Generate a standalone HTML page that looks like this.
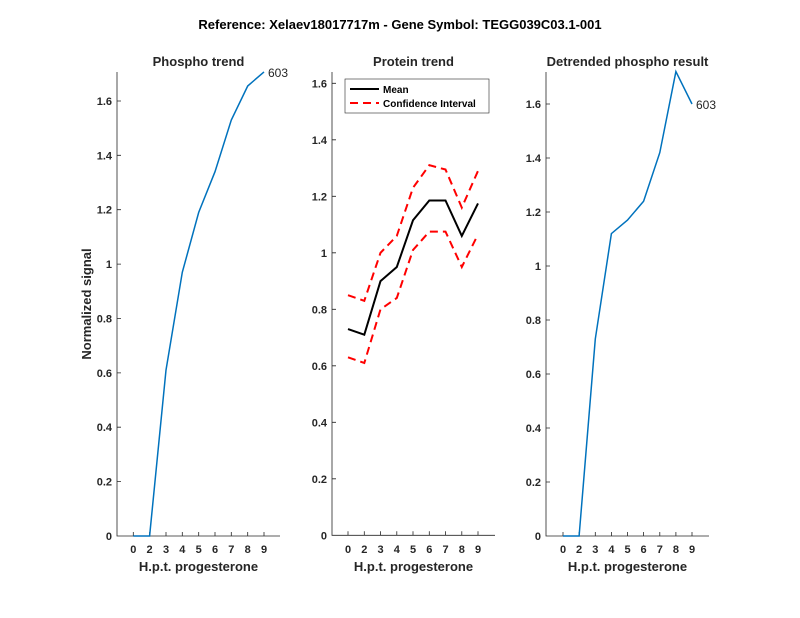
<!DOCTYPE html><html><head><style>body{margin:0;background:#fff}svg{display:block}text{font-family:"Liberation Sans",sans-serif;fill:#262626}</style></head><body>
<svg width="800" height="618" viewBox="0 0 800 618" xmlns="http://www.w3.org/2000/svg">
<text x="400" y="29" font-size="13" font-weight="bold" text-anchor="middle" style="fill:#000">Reference:  Xelaev18017717m - Gene Symbol:  TEGG039C03.1-001</text>
<g stroke="#262626" stroke-width="0.8" fill="none">
<path d="M117,72V536H280"/><path d="M332,72V535.3H495"/><path d="M546,72V536H709"/>
<path d="M117,101h4M117,155.3h4M117,209.7h4M117,264.1h4M117,318.5h4M117,372.9h4M117,427.2h4M117,481.6h4
M133.3,536v-4M149.6,536v-4M166,536v-4M182.3,536v-4M198.7,536v-4M215,536v-4M231.3,536v-4M247.7,536v-4M264,536v-4"/>
<path d="M332,83.3h4M332,139.8h4M332,196.3h4M332,252.8h4M332,309.3h4M332,365.8h4M332,422.3h4M332,478.8h4
M348,535.3v-4M364.3,535.3v-4M380.5,535.3v-4M396.8,535.3v-4M413,535.3v-4M429.3,535.3v-4M445.5,535.3v-4M461.8,535.3v-4M478,535.3v-4"/>
<path d="M546,104h4M546,158h4M546,212h4M546,266h4M546,320h4M546,374h4M546,428h4M546,482h4
M563,536v-4M579.1,536v-4M595.3,536v-4M611.4,536v-4M627.5,536v-4M643.6,536v-4M659.8,536v-4M675.9,536v-4M692,536v-4"/>
</g>
<g font-size="11" font-weight="bold" text-anchor="end">
<text x="112" y="540">0</text><text x="112" y="485.6">0.2</text><text x="112" y="431.2">0.4</text><text x="112" y="376.9">0.6</text><text x="112" y="322.5">0.8</text><text x="112" y="268.1">1</text><text x="112" y="213.7">1.2</text><text x="112" y="159.3">1.4</text><text x="112" y="105">1.6</text>
<text x="327" y="539.3">0</text><text x="327" y="482.8">0.2</text><text x="327" y="426.3">0.4</text><text x="327" y="369.8">0.6</text><text x="327" y="313.3">0.8</text><text x="327" y="256.8">1</text><text x="327" y="200.3">1.2</text><text x="327" y="143.8">1.4</text><text x="327" y="87.3">1.6</text>
<text x="541" y="540">0</text><text x="541" y="486">0.2</text><text x="541" y="432">0.4</text><text x="541" y="378">0.6</text><text x="541" y="324">0.8</text><text x="541" y="270">1</text><text x="541" y="216">1.2</text><text x="541" y="162">1.4</text><text x="541" y="108">1.6</text>
</g>
<g font-size="11" font-weight="bold" text-anchor="middle">
<text x="133.3" y="553">0</text><text x="149.6" y="553">2</text><text x="166" y="553">3</text><text x="182.3" y="553">4</text><text x="198.7" y="553">5</text><text x="215" y="553">6</text><text x="231.3" y="553">7</text><text x="247.7" y="553">8</text><text x="264" y="553">9</text>
<text x="348" y="553">0</text><text x="364.3" y="553">2</text><text x="380.5" y="553">3</text><text x="396.8" y="553">4</text><text x="413" y="553">5</text><text x="429.3" y="553">6</text><text x="445.5" y="553">7</text><text x="461.8" y="553">8</text><text x="478" y="553">9</text>
<text x="563" y="553">0</text><text x="579.1" y="553">2</text><text x="595.3" y="553">3</text><text x="611.4" y="553">4</text><text x="627.5" y="553">5</text><text x="643.6" y="553">6</text><text x="659.8" y="553">7</text><text x="675.9" y="553">8</text><text x="692" y="553">9</text>
</g>
<g font-size="13" font-weight="bold" text-anchor="middle">
<text x="198.5" y="571">H.p.t. progesterone</text><text x="413.5" y="571">H.p.t. progesterone</text><text x="627.5" y="571">H.p.t. progesterone</text>
<text x="198.5" y="66">Phospho trend</text><text x="413.5" y="66">Protein trend</text><text x="627.5" y="66">Detrended phospho result</text>
<text transform="translate(91,304) rotate(-90)">Normalized signal</text>
</g>
<g fill="none" stroke-width="1.5">
<polyline stroke="#0072BD" points="133.3,536 149.6,536 166,370.1 182.3,272.3 198.7,212.4 215,171.7 231.3,120 247.7,86 264,71.9"/>
<polyline stroke="#0072BD" points="563,536 579.1,536 595.3,338.9 611.4,233.6 627.5,220.1 643.6,201.2 659.8,152.6 675.9,71.6 692,104"/>
<polyline stroke="#f00" stroke-width="2" stroke-dasharray="8,5" points="348,295.2 364.3,300.8 380.5,252.8 396.8,235.9 413,187.8 429.3,165.2 445.5,169.5 461.8,207.6 478,170.9"/>
<polyline stroke="#f00" stroke-width="2" stroke-dasharray="8,5" points="348,357.3 364.3,363 380.5,309.3 396.8,298 413,250 429.3,231.6 445.5,231.6 461.8,267 478,234.4"/>
<polyline stroke="#000" stroke-width="2" points="348,329.1 364.3,334.7 380.5,281.1 396.8,267 413,220.3 429.3,200.5 445.5,200.5 461.8,235.9 478,203.4"/>
</g>
<text x="268" y="77" font-size="12">603</text>
<text x="696" y="109" font-size="12">603</text>
<rect x="345" y="79" width="144" height="34" fill="#fff" stroke="#262626" stroke-width="0.6"/>
<line x1="350" y1="89" x2="379" y2="89" stroke="#000" stroke-width="2"/>
<line x1="350" y1="103" x2="379" y2="103" stroke="#f00" stroke-width="2" stroke-dasharray="8,5"/>
<text x="383" y="93" font-size="10" font-weight="bold" style="fill:#000">Mean</text>
<text x="383" y="107" font-size="10" font-weight="bold" style="fill:#000">Confidence Interval</text>
</svg></body></html>
